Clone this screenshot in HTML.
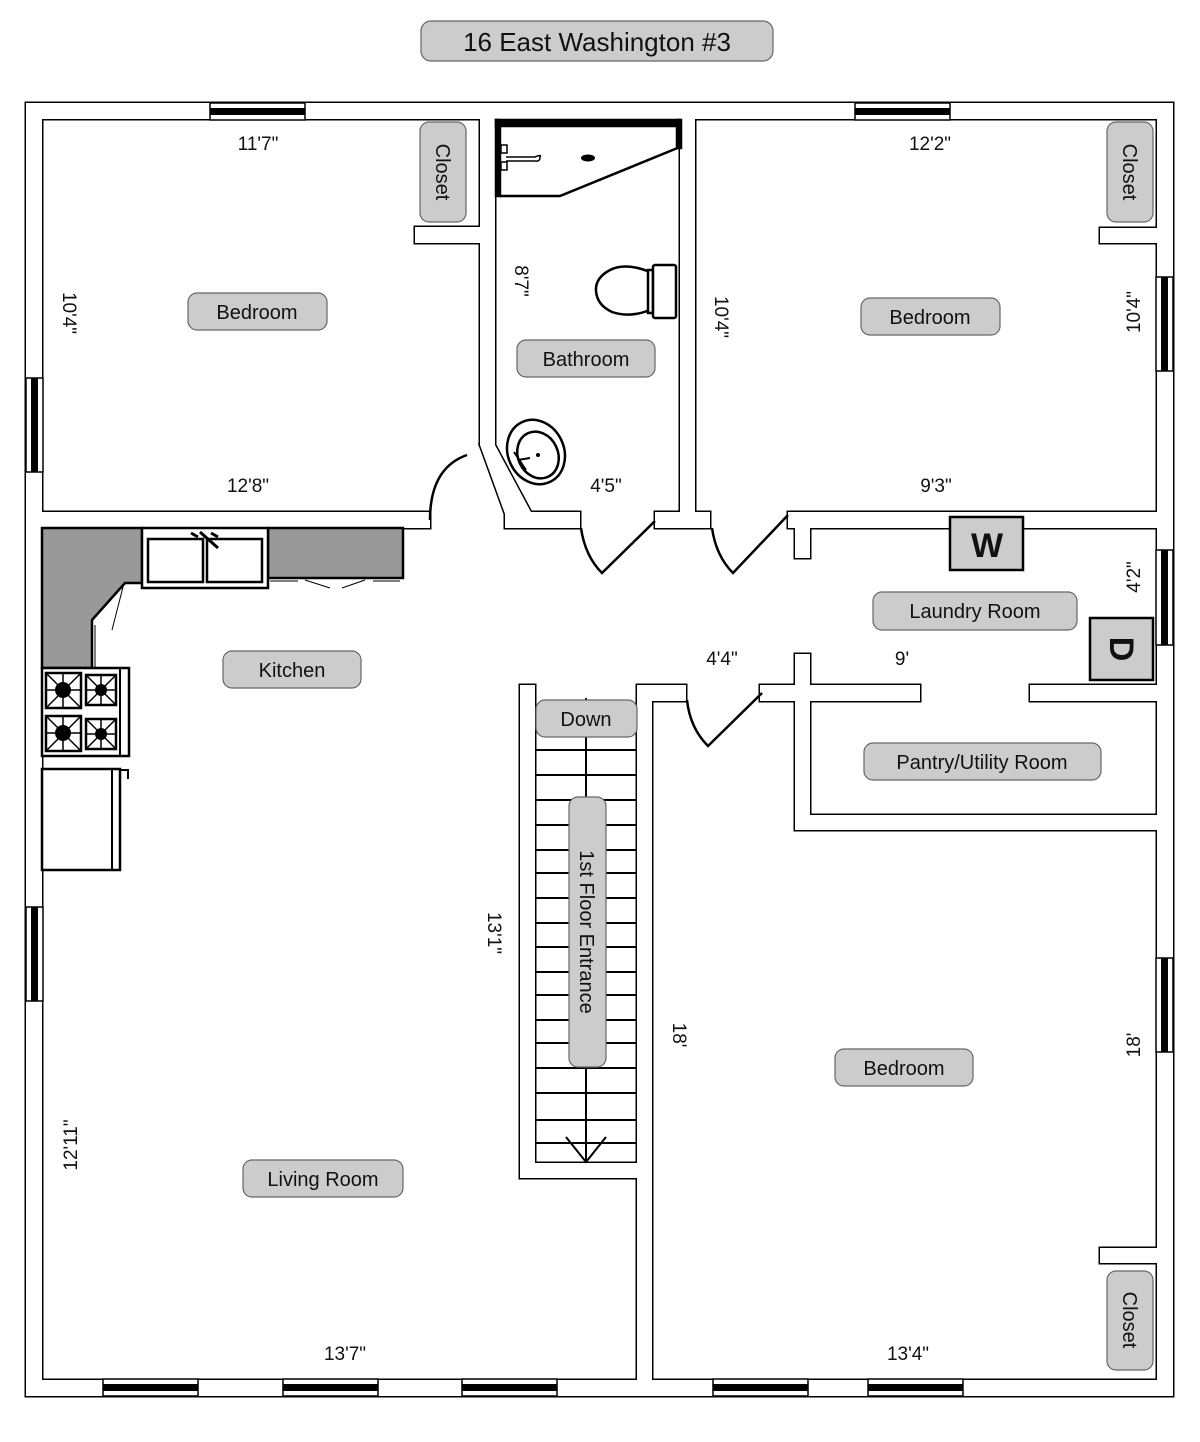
<!DOCTYPE html>
<html><head><meta charset="utf-8"><style>
html,body{margin:0;padding:0;background:#fff}
svg{display:block}
text{font-family:"Liberation Sans",sans-serif;fill:#111}
</style></head><body>
<svg width="1200" height="1442" viewBox="0 0 1200 1442" xmlns="http://www.w3.org/2000/svg">
<defs>
<g id="walls">
<rect x="26" y="103" width="1146" height="16"/>
<rect x="26" y="1380" width="1146" height="16"/>
<rect x="26" y="103" width="16" height="1293"/>
<rect x="1157" y="103" width="16" height="1293"/>
<rect x="480" y="119" width="15" height="326"/>
<polygon points="480,445 495,445 532,514 505,514"/>
<rect x="415" y="227" width="65" height="16"/>
<rect x="42" y="512" width="388" height="16"/>
<rect x="505" y="512" width="75" height="16"/>
<rect x="655" y="512" width="55" height="16"/>
<rect x="680" y="119" width="15" height="395"/>
<rect x="1100" y="228" width="57" height="15"/>
<rect x="788" y="512" width="369" height="16"/>
<rect x="795" y="526" width="15" height="32"/>
<rect x="637" y="685" width="49" height="16"/>
<rect x="760" y="685" width="160" height="16"/>
<rect x="1030" y="685" width="127" height="16"/>
<rect x="795" y="654" width="15" height="33"/>
<rect x="795" y="699" width="15" height="131"/>
<rect x="808" y="815" width="349" height="15"/>
<rect x="520" y="685" width="15" height="493"/>
<rect x="520" y="1163" width="117" height="15"/>
<rect x="637" y="685" width="15" height="697"/>
<rect x="1100" y="1248" width="57" height="15"/>
</g>
</defs>
<use href="#walls" fill="none" stroke="#000" stroke-width="3"/>
<use href="#walls" fill="#fff" stroke="none"/>

<!-- windows -->
<g fill="#fff" stroke="#000" stroke-width="1.5">
<rect x="210" y="103" width="95" height="17"/><rect x="855" y="103" width="95" height="17"/>
<rect x="26" y="378" width="17" height="94"/><rect x="26" y="907" width="17" height="94"/>
<rect x="1156" y="277" width="17" height="94"/><rect x="1156" y="550" width="17" height="95"/><rect x="1156" y="958" width="17" height="94"/>
<rect x="103" y="1379" width="95" height="17"/><rect x="283" y="1379" width="95" height="17"/><rect x="462" y="1379" width="95" height="17"/><rect x="713" y="1379" width="95" height="17"/><rect x="868" y="1379" width="95" height="17"/>
</g>
<g fill="#000">
<rect x="210" y="108" width="95" height="7"/><rect x="855" y="108" width="95" height="7"/>
<rect x="31" y="378" width="7" height="94"/><rect x="31" y="907" width="7" height="94"/>
<rect x="1161" y="277" width="7" height="94"/><rect x="1161" y="550" width="7" height="95"/><rect x="1161" y="958" width="7" height="94"/>
<rect x="103" y="1384" width="95" height="7"/><rect x="283" y="1384" width="95" height="7"/><rect x="462" y="1384" width="95" height="7"/><rect x="713" y="1384" width="95" height="7"/><rect x="868" y="1384" width="95" height="7"/>
</g>

<!-- doors -->
<g fill="none" stroke="#000" stroke-width="2.5">
<path d="M430,520 Q430,468 467,455"/>
<path d="M581,528 Q585,556 602,573 L655,521"/>
<path d="M712,528 Q716,556 733,573 L788,515"/>
<path d="M687,700 Q690,728 708,746 L762,693"/>
</g>

<!-- shower -->
<g stroke="#000" stroke-width="2.5" fill="none">
<rect x="496" y="120" width="184" height="6" fill="#000"/>
<rect x="496" y="120" width="4" height="76" fill="#000"/>
<path d="M500,196 L560,196 L680,147"/>
<rect x="677" y="120" width="4" height="28" fill="#000"/>
<path d="M506,157 L535,157 Q542,154 540,157 Q540,162 535,161 L506,161" stroke-width="1.5"/>
<rect x="501" y="145" width="6" height="8" stroke-width="1.5"/><rect x="501" y="162" width="6" height="8" stroke-width="1.5"/>
</g>
<ellipse cx="588" cy="158" rx="7" ry="3.5" fill="#000"/>
<!-- toilet -->
<g stroke="#000" stroke-width="2.5" fill="#fff">
<path d="M650,272 Q625,262 610,270 Q595,278 596,291 Q597,305 612,312 Q630,318 650,310 Z"/>
<rect x="648" y="270" width="5" height="43"/>
<rect x="653" y="265" width="23" height="53" rx="2"/>
</g>
<!-- sink -->
<g stroke="#000" stroke-width="2.5" fill="#fff">
<ellipse cx="536" cy="452" rx="28" ry="33" transform="rotate(-25 536 452)"/>
<ellipse cx="538" cy="455" rx="20" ry="24" transform="rotate(-25 538 455)"/>
</g>
<circle cx="538" cy="455" r="2" fill="#000"/>
<path d="M514,452 L526,470 M518,460 L530,458" stroke="#000" stroke-width="2"/>

<!-- kitchen -->
<polygon points="42,528 142,528 142,583 125,583 92,620 92,668 42,668" fill="#999" stroke="#000" stroke-width="2.5"/>
<rect x="268" y="528" width="135" height="50" fill="#999" stroke="#000" stroke-width="2.5"/>
<rect x="142" y="528" width="126" height="60" fill="#fff" stroke="#000" stroke-width="2.5"/>
<rect x="148" y="539" width="55" height="43" fill="#fff" stroke="#000" stroke-width="2.5"/>
<rect x="207" y="539" width="55" height="43" fill="#fff" stroke="#000" stroke-width="2.5"/>
<path d="M200,532 L218,548 M191,533 L198,537 M211,533 L218,537" stroke="#000" stroke-width="3"/>
<path d="M270,581 L298,581 M305,580 L330,588 M342,588 L365,580 M373,581 L400,581 M112,630 L123,587 M95,625 L95,668" stroke="#000" stroke-width="1"/>
<rect x="42" y="668" width="87" height="88" fill="#fff" stroke="#000" stroke-width="2.5"/>
<line x1="120" y1="668" x2="120" y2="756" stroke="#000" stroke-width="2"/>
<g stroke="#000" stroke-width="2.5" fill="#fff">
<rect x="46" y="673" width="35" height="35"/><rect x="86" y="675" width="30" height="30"/>
<rect x="46" y="716" width="35" height="35"/><rect x="86" y="719" width="30" height="30"/>
</g>
<g stroke="#000" stroke-width="1.5">
<path d="M46,673 L81,708 M81,673 L46,708 M63,673 L63,708 M46,690 L81,690"/>
<path d="M86,675 L116,705 M116,675 L86,705 M101,675 L101,705 M86,690 L116,690"/>
<path d="M46,716 L81,751 M81,716 L46,751 M63,716 L63,751 M46,733 L81,733"/>
<path d="M86,719 L116,749 M116,719 L86,749 M101,719 L101,749 M86,734 L116,734"/>
</g>
<g fill="#000"><circle cx="63" cy="690" r="8"/><circle cx="101" cy="690" r="6"/><circle cx="63" cy="733" r="8"/><circle cx="101" cy="734" r="6"/></g>
<rect x="42" y="769" width="78" height="101" fill="#fff" stroke="#000" stroke-width="2.5"/>
<line x1="112" y1="769" x2="112" y2="870" stroke="#000" stroke-width="2"/>
<path d="M120,770 L128,770 L128,779" fill="none" stroke="#000" stroke-width="2"/>

<!-- stairs -->
<g stroke="#000" stroke-width="2">
<line x1="535" y1="750" x2="637" y2="750"/><line x1="535" y1="775" x2="637" y2="775"/><line x1="535" y1="800" x2="637" y2="800"/><line x1="535" y1="825" x2="637" y2="825"/><line x1="535" y1="850" x2="637" y2="850"/><line x1="535" y1="873" x2="637" y2="873"/><line x1="535" y1="898" x2="637" y2="898"/><line x1="535" y1="923" x2="637" y2="923"/><line x1="535" y1="947" x2="637" y2="947"/><line x1="535" y1="972" x2="637" y2="972"/><line x1="535" y1="995" x2="637" y2="995"/><line x1="535" y1="1020" x2="637" y2="1020"/><line x1="535" y1="1043" x2="637" y2="1043"/><line x1="535" y1="1068" x2="637" y2="1068"/><line x1="535" y1="1093" x2="637" y2="1093"/><line x1="535" y1="1120" x2="637" y2="1120"/><line x1="535" y1="1143" x2="637" y2="1143"/>
<line x1="586" y1="698" x2="586" y2="1162"/>
<path d="M566,1137 L586,1162 L606,1137" fill="none"/>
</g>

<!-- W / D -->
<rect x="950" y="517" width="73" height="53" fill="#ccc" stroke="#000" stroke-width="2.5"/>
<text x="987" y="557" font-size="34" font-weight="bold" text-anchor="middle">W</text>
<rect x="1090" y="618" width="63" height="62" fill="#ccc" stroke="#000" stroke-width="2.5"/>
<text transform="translate(1122,649) rotate(90)" font-size="34" font-weight="bold" text-anchor="middle" dy="12">D</text>

<!-- labels -->
<g fill="#ccc" stroke="#666" stroke-width="1.2">
<rect x="421" y="21" width="352" height="40" rx="10"/>
<rect x="188" y="293" width="139" height="37" rx="9"/>
<rect x="517" y="340" width="138" height="37" rx="9"/>
<rect x="861" y="298" width="139" height="37" rx="9"/>
<rect x="223" y="651" width="138" height="37" rx="9"/>
<rect x="873" y="592" width="204" height="38" rx="9"/>
<rect x="864" y="743" width="237" height="37" rx="9"/>
<rect x="536" y="700" width="101" height="37" rx="9"/>
<rect x="569" y="797" width="37" height="270" rx="9"/>
<rect x="835" y="1049" width="138" height="37" rx="9"/>
<rect x="243" y="1160" width="160" height="37" rx="9"/>
<rect x="420" y="122" width="46" height="100" rx="9"/>
<rect x="1107" y="122" width="46" height="100" rx="9"/>
<rect x="1107" y="1271" width="46" height="99" rx="9"/>
</g>
<g font-size="20" text-anchor="middle">
<text x="597" y="51" font-size="26">16 East Washington #3</text>
<text x="257" y="319">Bedroom</text>
<text x="586" y="366">Bathroom</text>
<text x="930" y="324">Bedroom</text>
<text x="292" y="677">Kitchen</text>
<text x="975" y="618">Laundry Room</text>
<text x="982" y="769">Pantry/Utility Room</text>
<text x="586" y="726">Down</text>
<text x="904" y="1075">Bedroom</text>
<text x="323" y="1186">Living Room</text>
<text transform="translate(587,932) rotate(90)" dy="7">1st Floor Entrance</text>
<text transform="translate(443,172) rotate(90)" dy="7">Closet</text>
<text transform="translate(1130,172) rotate(90)" dy="7">Closet</text>
<text transform="translate(1130,1320) rotate(90)" dy="7">Closet</text>
</g>
<g font-size="19" text-anchor="middle">
<text x="258" y="150">11'7"</text>
<text x="930" y="150">12'2"</text>
<text x="248" y="492">12'8"</text>
<text x="606" y="492">4'5"</text>
<text x="936" y="492">9'3"</text>
<text x="722" y="665">4'4"</text>
<text x="902" y="665">9'</text>
<text x="345" y="1360">13'7"</text>
<text x="908" y="1360">13'4"</text>
<text transform="translate(70,313) rotate(90)" dy="7">10'4"</text>
<text transform="translate(522,281) rotate(90)" dy="7">8'7"</text>
<text transform="translate(722,317) rotate(90)" dy="7">10'4"</text>
<text transform="translate(495,933) rotate(90)" dy="7">13'1"</text>
<text transform="translate(680,1035) rotate(90)" dy="7">18'</text>
<text transform="translate(1133,312) rotate(-90)" dy="7">10'4"</text>
<text transform="translate(1133,577) rotate(-90)" dy="7">4'2"</text>
<text transform="translate(1133,1045) rotate(-90)" dy="7">18'</text>
<text transform="translate(70,1145) rotate(-90)" dy="7">12'11"</text>
</g>
</svg>
</body></html>
